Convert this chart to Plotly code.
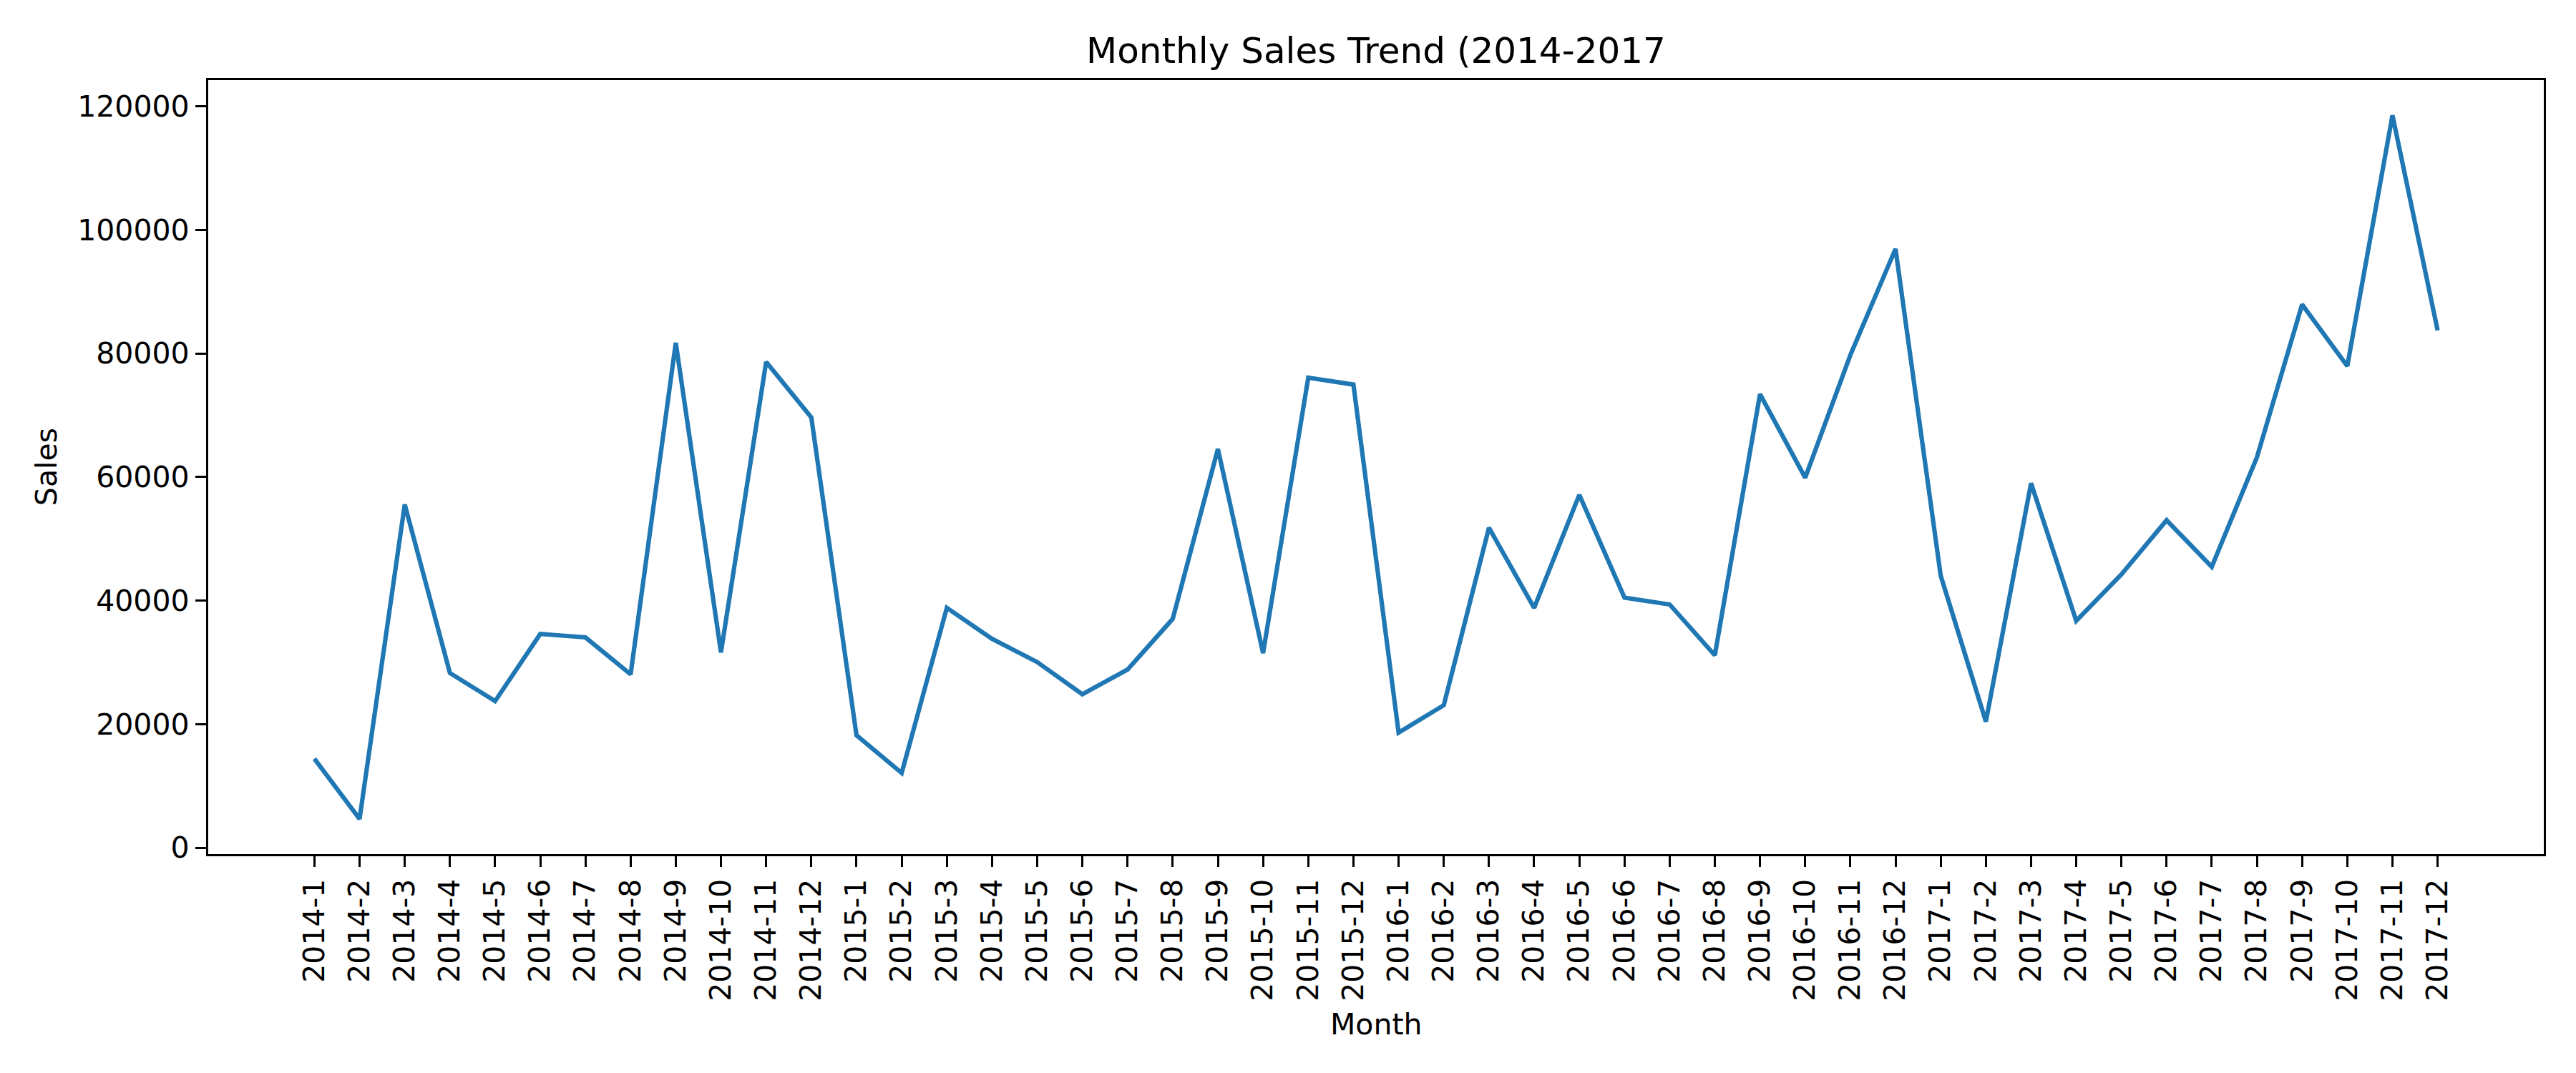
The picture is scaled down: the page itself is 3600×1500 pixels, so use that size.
import plotly.graph_objects as go

# --- DATA ---
months = [
    "2014-1", "2014-2", "2014-3", "2014-4", "2014-5", "2014-6",
    "2014-7", "2014-8", "2014-9", "2014-10", "2014-11", "2014-12",
    "2015-1", "2015-2", "2015-3", "2015-4", "2015-5", "2015-6",
    "2015-7", "2015-8", "2015-9", "2015-10", "2015-11", "2015-12",
    "2016-1", "2016-2", "2016-3", "2016-4", "2016-5", "2016-6",
    "2016-7", "2016-8", "2016-9", "2016-10", "2016-11", "2016-12",
    "2017-1", "2017-2", "2017-3", "2017-4", "2017-5", "2017-6",
    "2017-7", "2017-8", "2017-9", "2017-10", "2017-11", "2017-12",
]
sales = [
    14420, 4660, 55560, 28280, 23730, 34600,
    34050, 28060, 81730, 31610, 78630, 69650,
    18190, 12090, 38820, 33820, 30050, 24840,
    28830, 37040, 64540, 31500, 76080, 74970,
    18630, 23070, 51790, 38820, 57110, 40480,
    39370, 31160, 73420, 59890, 79740, 96930,
    44030, 20410, 59000, 36710, 44250, 53010,
    45470, 63210, 87940, 77960, 118550, 83730,
]
y_ticks = [0, 20000, 40000, 60000, 80000, 100000, 120000]

FONT = "DejaVu Sans"
positions = list(range(len(months)))

# matplotlib-style 5% padding around the data
x_pad = (len(months) - 1) * 0.05
y_pad = (max(sales) - min(sales)) * 0.05

fig = go.Figure()

fig.add_trace(go.Scatter(
    x=positions,
    y=sales,
    mode="lines",
    line=dict(color="#1f77b4", width=6.2),
    showlegend=False,
))

axis_common = dict(
    showgrid=False,
    zeroline=False,
    showline=True,
    mirror=True,
    linecolor="black",
    linewidth=3.3,
    ticks="outside",
    ticklen=15,
    tickwidth=3.3,
    tickcolor="black",
    tickfont=dict(family=FONT, size=41, color="black"),
)

# margins compensate for the 8px page margin around the plot div
fig.update_layout(
    width=3600,
    height=1500,
    paper_bgcolor="white",
    plot_bgcolor="white",
    margin=dict(l=283, r=53, t=104, b=314),
    title=dict(
        text="Monthly Sales Trend (2014-2017",
        x=0.5, xref="paper", xanchor="center",
        y=1 - 62 / 1500, yref="container", yanchor="middle",
        font=dict(family=FONT, size=50, color="black"),
    ),
    xaxis=dict(
        axis_common,
        range=[-x_pad, len(months) - 1 + x_pad],
        tickvals=positions,
        ticktext=months,
        tickangle=-90,
    ),
    yaxis=dict(
        axis_common,
        range=[min(sales) - y_pad, max(sales) + y_pad],
        tickvals=y_ticks,
        tickformat="d",
    ),
    annotations=[
        dict(text="Month", x=0.5, y=-0.22, xref="paper", yref="paper",
             xanchor="center", yanchor="middle", showarrow=False,
             font=dict(family=FONT, size=41, color="black")),
        dict(text="Sales", x=-0.0692, y=0.5, xref="paper", yref="paper",
             xanchor="center", yanchor="middle", textangle=-90, showarrow=False,
             font=dict(family=FONT, size=41, color="black")),
    ],
)

fig.write_html("out.html")
